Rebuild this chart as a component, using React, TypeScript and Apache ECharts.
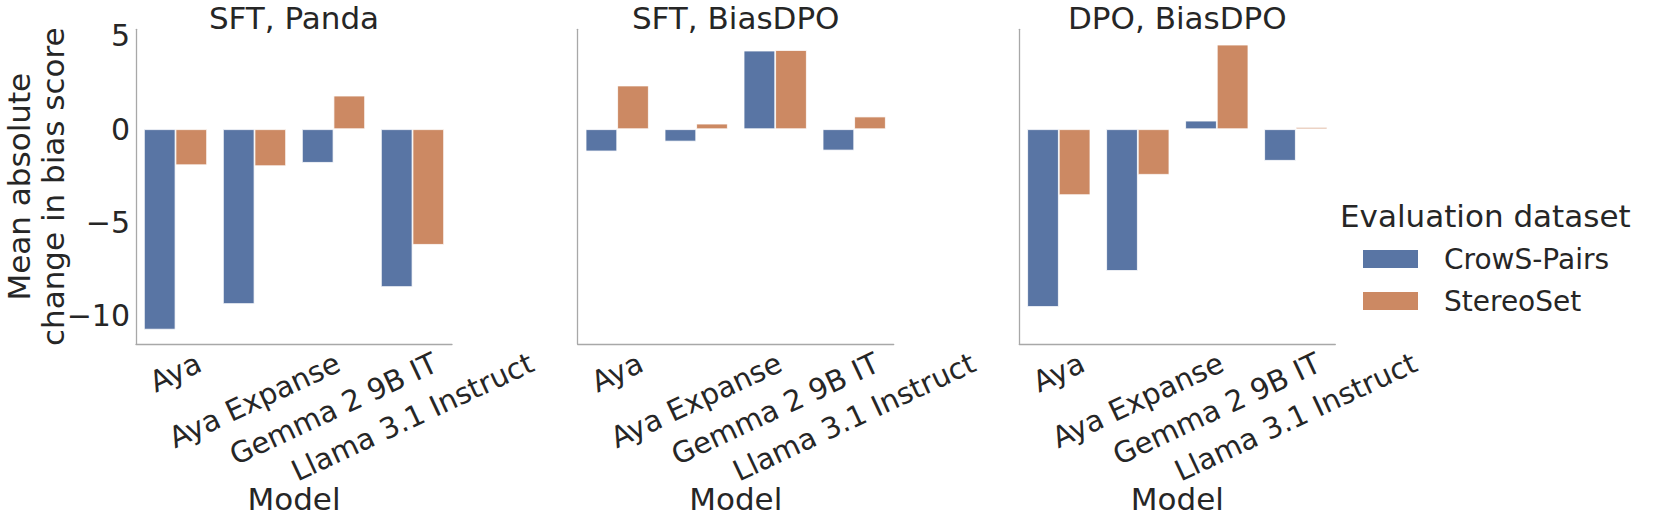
import React, { useEffect, useRef } from 'react';
import * as echarts from 'echarts';

const models = ['Aya', 'Aya Expanse', 'Gemma 2 9B IT', 'Llama 3.1 Instruct'];
const panelTitles = ['SFT, Panda', 'SFT, BiasDPO', 'DPO, BiasDPO'];
const seriesNames = ['CrowS-Pairs', 'StereoSet'];
const crowsPairs = [
  [-10.73, -9.36, -1.8, -8.45],
  [-1.19, -0.66, 4.21, -1.14],
  [-9.52, -7.59, 0.46, -1.69],
];
const stereoSet = [
  [-1.93, -1.98, 1.8, -6.19],
  [2.34, 0.3, 4.24, 0.68],
  [-3.53, -2.44, 4.53, 0.12],
];
const yTicks = [-10, -5, 0, 5];
const yLabel = 'Mean absolute\nchange in bias score';
const xLabel = 'Model';
const legendTitle = 'Evaluation dataset';

const FONT = 'DejaVu Sans';
const TEXT = '#262626';
const SPINE = '#a8a8a8';
const COLORS = ['#5975a4', '#cc8963'];
const Y_MIN = -11.5;
const Y_MAX = 5.35;
const GRID_LEFT = [136, 577.7, 1019.3];
const GRID_W = 316;
const GRID_TOP = 29.3;
const GRID_H = 314.7;
const TICK_FONT = 29;
const YTICK_FONT = 30;
const ROT_DEG = 25;

const fmt = (v: number) => (v < 0 ? '\u2212' + Math.abs(v) : String(v));

export default function App() {
  const ref = useRef<HTMLDivElement>(null);
  useEffect(() => {
    if (!ref.current) return;
    const chart = echarts.init(ref.current, undefined, { renderer: 'svg' });
    const grids = GRID_LEFT.map((l) => ({ left: l, top: GRID_TOP, width: GRID_W, height: GRID_H, containLabel: false }));
    const xAxes = GRID_LEFT.map((_, i) => ({
      type: 'category',
      gridIndex: i,
      data: models,
      boundaryGap: true,
      axisLine: { show: true, onZero: false, lineStyle: { color: SPINE, width: 1.3 } },
      axisTick: { show: false },
      axisLabel: { show: false },
      splitLine: { show: false },
      name: xLabel,
      nameLocation: 'middle',
      nameGap: 139,
      nameTextStyle: { fontSize: 31, color: TEXT, fontFamily: FONT },
    }));
    const yAxes = GRID_LEFT.map((_, i) => ({
      type: 'value',
      gridIndex: i,
      min: Y_MIN,
      max: Y_MAX,
      axisLine: { show: true, lineStyle: { color: SPINE, width: 1.3 } },
      axisTick: { show: false },
      splitLine: { show: false },
      axisLabel: { show: false },
      name: i === 0 ? yLabel : '',
      nameLocation: 'middle',
      nameRotate: 90,
      nameGap: 66,
      nameTextStyle: { fontSize: 31, color: TEXT, fontFamily: FONT, lineHeight: 34 },
    }));
    const series: any[] = [];
    GRID_LEFT.forEach((_, i) => {
      [crowsPairs[i], stereoSet[i]].forEach((d, k) => {
        series.push({
          type: 'bar',
          name: seriesNames[k],
          xAxisIndex: i,
          yAxisIndex: i,
          data: d,
          barWidth: '40%',
          barGap: '0%',
          itemStyle: { color: COLORS[k], borderColor: '#ffffff', borderWidth: 0.8 },
        });
      });
    });
    const titles: any[] = panelTitles.map((t, i) => ({
      text: t,
      left: GRID_LEFT[i] + GRID_W / 2,
      top: 2,
      textAlign: 'center',
      padding: 0,
      textStyle: { fontSize: 31, fontWeight: 'normal', color: TEXT, fontFamily: FONT },
    }));
    titles.push({
      text: legendTitle,
      left: 1340,
      top: 200,
      padding: 0,
      textStyle: { fontSize: 31, fontWeight: 'normal', color: TEXT, fontFamily: FONT },
    });
    chart.setOption({
      animation: false,
      backgroundColor: '#ffffff',
      title: titles,
      grid: grids,
      xAxis: xAxes,
      yAxis: yAxes,
      series,
      legend: {
        data: seriesNames,
        orient: 'vertical',
        left: 1361,
        top: 245,
        padding: 0,
        itemWidth: 57,
        itemHeight: 20,
        itemGap: 14,
        icon: 'rect',
        textStyle: { fontSize: 28, color: TEXT, fontFamily: FONT, lineHeight: 28, padding: [0, 0, 0, 20] },
      },
    });

    // tick labels, placed from the axes' own scales
    const canvas = document.createElement('canvas');
    const ctx = canvas.getContext('2d')!;
    ctx.font = `${TICK_FONT}px "DejaVu Sans"`;
    const th = (ROT_DEG * Math.PI) / 180;
    const lineH = TICK_FONT * 1.16;
    const pad = 2;
    const graphics: any[] = [];
    GRID_LEFT.forEach((_, i) => {
      const axisY = chart.convertToPixel({ yAxisIndex: i } as any, Y_MIN) as unknown as number;
      models.forEach((m, j) => {
        const x = chart.convertToPixel({ xAxisIndex: i } as any, j) as unknown as number;
        const w = ctx.measureText(m).width;
        const H = w * Math.sin(th) + lineH * Math.cos(th);
        graphics.push({
          type: 'text',
          x,
          y: axisY + pad + H / 2,
          rotation: th,
          style: {
            text: m,
            fontSize: TICK_FONT,
            fontFamily: FONT,
            fill: TEXT,
            align: 'center',
            verticalAlign: 'middle',
          },
        });
      });
    });
    const axisX = GRID_LEFT[0];
    yTicks.forEach((v) => {
      const y = chart.convertToPixel({ yAxisIndex: 0 } as any, v) as unknown as number;
      graphics.push({
        type: 'text',
        x: axisX - 6,
        y,
        style: {
          text: fmt(v),
          fontSize: YTICK_FONT,
          fontFamily: FONT,
          fill: TEXT,
          align: 'right',
          verticalAlign: 'middle',
        },
      });
    });
    chart.setOption({ graphic: graphics });
    return () => chart.dispose();
  }, []);
  return (
    <div
      ref={ref}
      style={{ position: 'fixed', left: 0, top: 0, width: 1661, height: 521, background: '#fff' }}
    />
  );
}
